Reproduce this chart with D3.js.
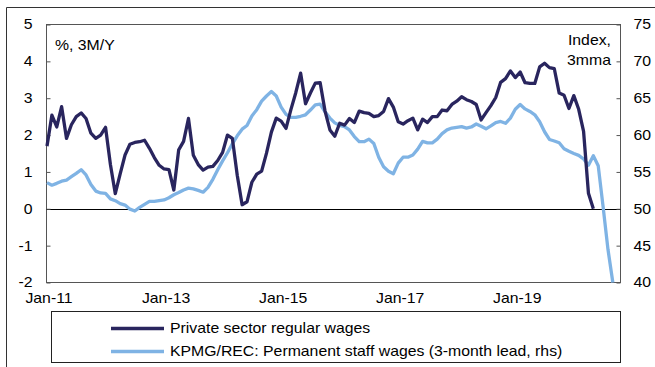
<!DOCTYPE html>
<html>
<head>
<meta charset="utf-8">
<script src="https://cdn.jsdelivr.net/npm/d3@7"></script>
<style>
  body { margin: 0; background: #fff; }
  svg { display: block; }
  text { font-family: "Liberation Sans", Arial, sans-serif; font-size: 14px; fill: #000; }
</style>
</head>
<body>
<svg id="chart" width="655" height="367"></svg>
<script>
// monthly data, both series start Jan-11
const privateWages = [
  1.7, 2.54, 2.22, 2.77, 1.91, 2.28, 2.5, 2.6, 2.45, 2.05, 1.91, 2.0,
  2.21, 1.2, 0.41, 0.95, 1.46, 1.75, 1.8, 1.82, 1.86, 1.64, 1.39, 1.18,
  1.08, 1.06, 0.51, 1.6, 1.83, 2.45, 1.45, 1.2, 1.05, 1.13, 1.15, 1.31,
  1.53, 2.0, 1.91, 0.91, 0.11, 0.19, 0.72, 0.94, 1.02, 1.51, 2.08, 2.46,
  2.38, 2.18, 2.69, 3.15, 3.68, 2.85, 3.14, 3.41, 3.42, 2.65, 2.14, 1.97,
  2.32, 2.27, 2.45, 2.34, 2.65, 2.61, 2.59, 2.5, 2.53, 2.64, 2.99, 2.76,
  2.36, 2.3, 2.39, 2.46, 2.14, 2.43, 2.34, 2.5, 2.5, 2.68, 2.66, 2.83,
  2.92, 3.04, 2.96, 2.91, 2.83, 2.41, 2.61, 2.8, 3.02, 3.43, 3.53, 3.74,
  3.56, 3.71, 3.42, 3.4, 3.4, 3.85, 3.95, 3.83, 3.8, 3.14, 3.08, 2.72,
  3.07, 2.7, 2.1, 0.42, 0.0
];
const kpmgRec = [
  53.55, 53.2, 53.45, 53.75, 53.9, 54.35, 54.8, 55.3, 54.6, 53.3, 52.4, 52.15,
  52.1, 51.35, 51.1, 50.7, 50.5, 49.95, 49.7, 50.2, 50.6, 51.0, 51.0, 51.1,
  51.2, 51.5, 51.9, 52.2, 52.55, 52.8, 52.7, 52.5, 52.25, 52.9, 54.0, 55.3,
  56.5, 57.6, 58.8, 59.9, 60.8, 61.3, 62.6, 63.45, 64.6, 65.3, 65.9, 65.3,
  63.8, 62.8, 62.4, 62.4, 62.55, 62.75, 63.4, 64.1, 64.2, 63.15, 62.3, 61.65,
  61.3, 61.15, 60.7, 59.8, 59.1, 59.1, 59.45, 58.85, 57.0, 55.7, 55.1, 54.75,
  56.2, 57.0, 57.0, 57.3, 58.1, 59.15, 58.95, 58.95, 59.45, 60.2, 60.7, 60.95,
  61.05, 61.15, 60.95, 61.1, 61.5, 61.2, 60.85, 61.25, 61.7, 61.85, 61.6, 62.3,
  63.5, 64.15, 63.55, 63.2, 62.75, 61.8, 60.45, 59.4, 59.2, 58.95, 58.15, 57.8,
  57.5, 57.25, 56.75, 55.9, 57.2, 55.85, 50.3, 44.5, 40.0
];
const leftTicks = [-2, -1, 0, 1, 2, 3, 4, 5];
const rightTicks = [40, 45, 50, 55, 60, 65, 70, 75];
const xLabels = ["Jan-11", "Jan-13", "Jan-15", "Jan-17", "Jan-19"];
const xLabelMonths = [0, 24, 48, 72, 96];
const seriesNames = ["Private sector regular wages", "KPMG/REC: Permanent staff wages (3-month lead, rhs)"];
const seriesColors = ["#29255e", "#7fb3e4"];

const svg = d3.select("#chart");
const plotL = 46.5, plotR = 620.5, plotT = 24.5, plotB = 282.5;
const wide = 1.13; // the source text is a bit stretched sideways

// widen text around its anchor point
function stretch(sel) {
  sel.each(function () {
    const t = d3.select(this);
    const ax = +t.attr("x") || 0;
    t.attr("transform", `translate(${ax},0) scale(${wide},1) translate(${-ax},0)`);
  });
}

// outer frame (cut off by the page edge)
svg.append("path")
  .attr("d", "M6.5,367 V7.5 H655")
  .attr("fill", "none")
  .attr("stroke", "#333");

const x = d3.scaleLinear().domain([0, 117.57]).range([47, plotR]);
const yL = d3.scaleLinear().domain([-2, 5]).range([plotB, plotT]);
const yR = d3.scaleLinear().domain([40, 75]).range([plotB, plotT]);

svg.append("rect")
  .attr("x", plotL).attr("y", plotT)
  .attr("width", plotR - plotL).attr("height", plotB - plotT)
  .attr("fill", "#fff")
  .attr("stroke", "#555");

// zero line
svg.append("line")
  .attr("x1", plotL).attr("x2", plotR)
  .attr("y1", Math.round(yL(0)) + 0.5).attr("y2", Math.round(yL(0)) + 0.5)
  .attr("stroke", "#000");

// axes
const gl = svg.append("g").attr("transform", `translate(${plotL},0)`)
  .call(d3.axisLeft(yL).tickValues(leftTicks).tickSize(-4).tickPadding(14).tickFormat(d => String(d)));
const gr = svg.append("g").attr("transform", `translate(${plotR},0)`)
  .call(d3.axisRight(yR).tickValues(rightTicks).tickSize(-4).tickPadding(13));
const gx = svg.append("g").attr("transform", `translate(0,${plotB})`)
  .call(d3.axisBottom(x).tickValues(xLabelMonths).tickSize(0).tickPadding(11)
    .tickFormat((d, i) => xLabels[i]));

[gl, gr, gx].forEach(g => {
  g.select(".domain").remove();
  g.selectAll(".tick line").attr("stroke", "#555");
  g.selectAll("text").style("font-size", "14px").attr("fill", "#000")
    .style("font-family", '"Liberation Sans", Arial, sans-serif');
});
gx.selectAll("text").attr("x", 1.5);
[gl, gr, gx].forEach(g => stretch(g.selectAll("text")));

// series
const line1 = d3.line().x((d, i) => x(i)).y(d => yL(d));
const line2 = d3.line().x((d, i) => x(i)).y(d => yR(d));

svg.append("path").datum(kpmgRec)
  .attr("d", line2)
  .attr("fill", "none")
  .attr("stroke", seriesColors[1])
  .attr("stroke-width", 3.3)
  .attr("stroke-linejoin", "round");

svg.append("path").datum(privateWages)
  .attr("d", line1)
  .attr("fill", "none")
  .attr("stroke", seriesColors[0])
  .attr("stroke-width", 3.3)
  .attr("stroke-linejoin", "round");

// inner labels
const notes = svg.append("g");
notes.append("text").attr("x", 55).attr("y", 50).text("%, 3M/Y");
notes.append("text").attr("x", 611).attr("y", 45).attr("text-anchor", "end").text("Index,");
notes.append("text").attr("x", 611).attr("y", 65).attr("text-anchor", "end").text("3mma");
stretch(notes.selectAll("text"));

// legend
const lg = svg.append("g");
lg.append("rect")
  .attr("x", 51.5).attr("y", 311.5)
  .attr("width", 569).attr("height", 51)
  .attr("fill", "#fff")
  .attr("stroke", "#222");

seriesNames.forEach((name, i) => {
  const yy = 328.5 + i * 23;
  lg.append("line")
    .attr("x1", 111).attr("x2", 164)
    .attr("y1", yy).attr("y2", yy)
    .attr("stroke", seriesColors[i])
    .attr("stroke-width", 3.5);
  lg.append("text")
    .attr("x", 170).attr("y", yy + 4.5)
    .text(name);
});
stretch(lg.selectAll("text"));
</script>
</body>
</html>
